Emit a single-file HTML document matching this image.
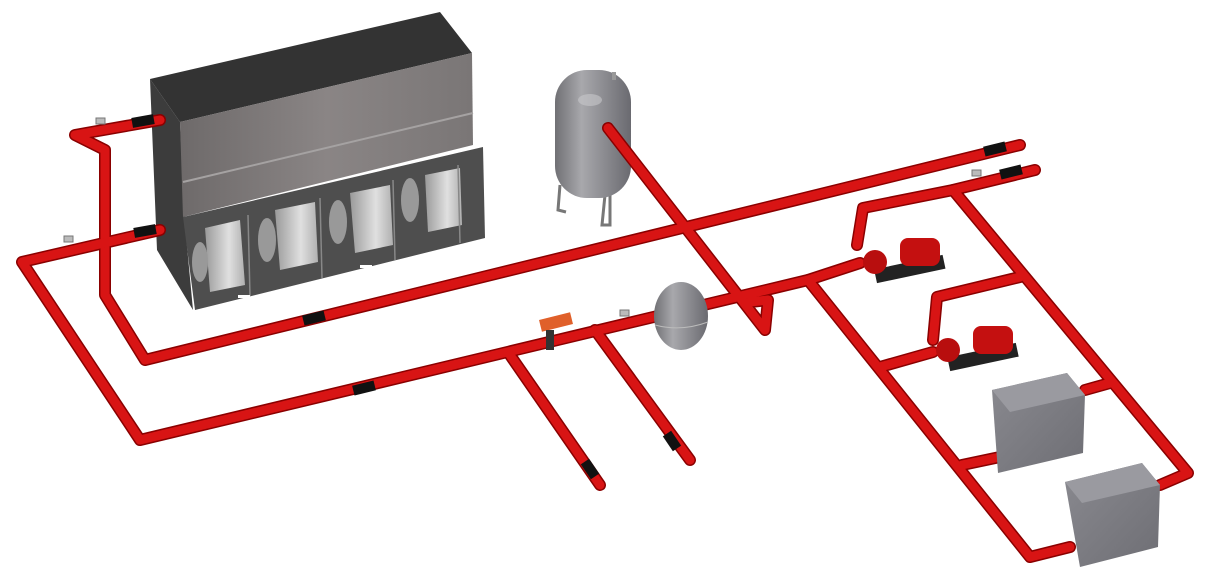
<!DOCTYPE html>
<html><head><meta charset="utf-8"><style>html,body{margin:0;background:#fff}svg{display:block}</style></head><body>
<svg width="1206" height="583" viewBox="0 0 1206 583" xmlns="http://www.w3.org/2000/svg">
<defs>
<linearGradient id="uf" x1="0" y1="0" x2="1" y2="0"><stop offset="0" stop-color="#6e6a6a"/><stop offset="0.5" stop-color="#8a8585"/><stop offset="1" stop-color="#7a7676"/></linearGradient>
<linearGradient id="tk" x1="0" y1="0" x2="1" y2="0"><stop offset="0" stop-color="#707074"/><stop offset="0.35" stop-color="#a8a8ac"/><stop offset="1" stop-color="#6a6a70"/></linearGradient>
<linearGradient id="bx" x1="0" y1="0" x2="1" y2="1"><stop offset="0" stop-color="#8a8a90"/><stop offset="1" stop-color="#6e6e74"/></linearGradient>
<linearGradient id="fan" x1="0" y1="0" x2="1" y2="0"><stop offset="0" stop-color="#9a9a9a"/><stop offset="0.6" stop-color="#e0e0e0"/><stop offset="1" stop-color="#b0b0b0"/></linearGradient>
</defs>
<!-- cooling unit -->
<polygon points="150,79 180,122 185,225 193,310 157,250" fill="#3c3c3c"/>
<polygon points="150,79 440,12 472,53 180,122" fill="#333"/>
<polygon points="180,122 472,53 473,145 183,217" fill="url(#uf)"/>
<line x1="183" y1="182" x2="473" y2="113" stroke="#a5a2a2" stroke-width="2"/>
<polygon points="183,217 483,147 485,238 195,310" fill="#4e4e4e"/>
<g fill="url(#fan)">
<polygon points="205,228 240,220 245,285 210,292"/>
<polygon points="275,210 315,202 318,262 280,270"/>
<polygon points="350,193 390,185 393,245 355,253"/>
<polygon points="425,175 460,168 462,225 428,232"/>
</g>
<g fill="#999"><ellipse cx="200" cy="262" rx="8" ry="20"/><ellipse cx="267" cy="240" rx="9" ry="22"/><ellipse cx="338" cy="222" rx="9" ry="22"/><ellipse cx="410" cy="200" rx="9" ry="22"/></g>
<g stroke="#888" stroke-width="1.5"><line x1="248" y1="215" x2="250" y2="296"/><line x1="320" y1="198" x2="322" y2="278"/><line x1="393" y1="180" x2="395" y2="260"/><line x1="458" y1="165" x2="460" y2="243"/></g>
<rect x="238" y="295" width="12" height="3" fill="#fff"/><rect x="360" y="265" width="12" height="3" fill="#fff"/>
<!-- tall tank -->
<path d="M560,185 L558,210 L566,212 M605,195 L602,225 L610,225 L610,195" stroke="#777" stroke-width="3" fill="none"/>
<rect x="555" y="70" width="76" height="128" rx="32" fill="url(#tk)"/>
<ellipse cx="590" cy="100" rx="12" ry="6" fill="#c8c8cc" opacity="0.6"/>
<rect x="612" y="72" width="4" height="8" fill="#999"/>
<!-- pipes -->
<g fill="none" stroke-linecap="round" stroke-linejoin="round">
<g stroke="#8a0000" stroke-width="12">
<polyline points="160,120 75,135 105,150 105,295 145,360 1020,145"/>
<polyline points="160,230 22,262 140,440 808,280 860,263"/>
<polyline points="1035,170 953,190 863,208 857,245"/>
<polyline points="953,190 1188,473 1160,485"/>
<polyline points="1020,277 937,297 933,340"/>
<polyline points="1110,383 1085,390"/>
<polyline points="808,280 1030,557 1070,547"/>
<polyline points="880,367 933,352"/>
<polyline points="962,465 1000,457"/>
<polyline points="608,128 765,330 768,300 750,302"/>
<polyline points="510,355 600,485"/>
<polyline points="595,330 690,460"/>
</g>
<g stroke="#d81414" stroke-width="9">
<polyline points="160,120 75,135 105,150 105,295 145,360 1020,145"/>
<polyline points="160,230 22,262 140,440 808,280 860,263"/>
<polyline points="1035,170 953,190 863,208 857,245"/>
<polyline points="953,190 1188,473 1160,485"/>
<polyline points="1020,277 937,297 933,340"/>
<polyline points="1110,383 1085,390"/>
<polyline points="808,280 1030,557 1070,547"/>
<polyline points="880,367 933,352"/>
<polyline points="962,465 1000,457"/>
<polyline points="608,128 765,330 768,300 750,302"/>
<polyline points="510,355 600,485"/>
<polyline points="595,330 690,460"/>
</g>
</g>
<!-- arrows labels -->
<g fill="#111">
<rect x="132" y="116" width="22" height="10" transform="rotate(-10 143 121)"/>
<rect x="134" y="226" width="22" height="10" transform="rotate(-10 145 231)"/>
<rect x="303" y="313" width="22" height="10" transform="rotate(-14 314 318)"/>
<rect x="353" y="383" width="22" height="10" transform="rotate(-14 364 388)"/>
<rect x="984" y="144" width="22" height="10" transform="rotate(-14 995 149)"/>
<rect x="1000" y="167" width="22" height="10" transform="rotate(-14 1011 172)"/>
<rect x="585" y="460" width="10" height="18" transform="rotate(-34 590 469)"/>
<rect x="667" y="432" width="10" height="18" transform="rotate(-34 672 441)"/>
</g>
<!-- small tank -->
<ellipse cx="681" cy="316" rx="27" ry="34" fill="url(#tk)"/>
<path d="M655,325 Q681,332 708,322" stroke="#bbb" fill="none"/>
<!-- pumps -->
<g>
<rect x="875" y="262" width="70" height="14" fill="#222" transform="rotate(-12 910 270)"/>
<rect x="900" y="238" width="40" height="28" rx="8" fill="#c41010"/>
<circle cx="875" cy="262" r="12" fill="#b80e0e"/>
<rect x="948" y="350" width="70" height="14" fill="#222" transform="rotate(-12 983 357)"/>
<rect x="973" y="326" width="40" height="28" rx="8" fill="#c41010"/>
<circle cx="948" cy="350" r="12" fill="#b80e0e"/>
</g>
<!-- valve actuator -->
<rect x="540" y="316" width="32" height="12" fill="#e0602a" transform="rotate(-14 556 322)"/>
<rect x="546" y="330" width="8" height="20" fill="#333"/>
<!-- boxes -->
<polygon points="992,390 1067,373 1085,395 1083,453 998,473" fill="url(#bx)"/>
<polygon points="992,390 1067,373 1085,395 1010,412" fill="#9a9aa0"/>
<polygon points="1065,482 1142,463 1160,485 1158,547 1080,567" fill="url(#bx)"/>
<polygon points="1065,482 1142,463 1160,485 1082,503" fill="#9a9aa0"/>
<!-- sensors -->
<g fill="#bbb" stroke="#777"><rect x="96" y="118" width="9" height="6"/><rect x="64" y="236" width="9" height="6"/><rect x="620" y="310" width="9" height="6"/><rect x="972" y="170" width="9" height="6"/></g>
</svg>
</body></html>
